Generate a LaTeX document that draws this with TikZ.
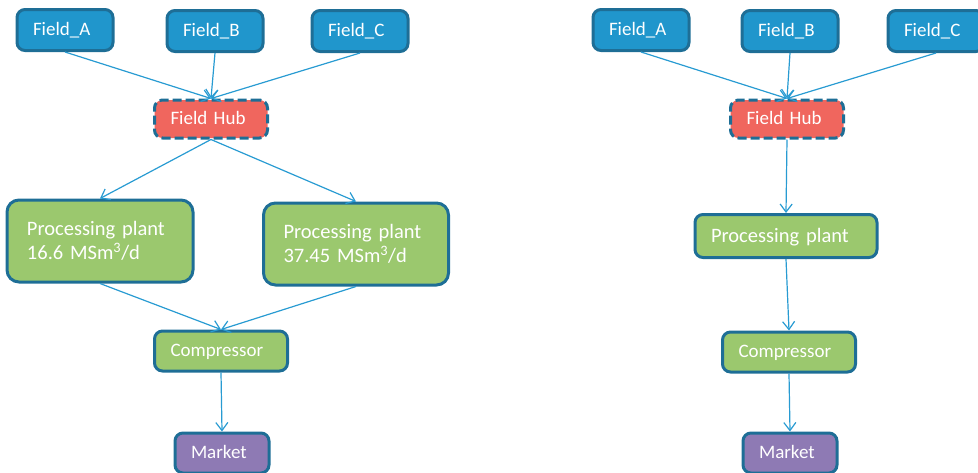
\documentclass[tikz,border=0pt]{standalone}
\usepackage{fontspec}
\setmainfont{Carlito}
\usetikzlibrary{arrows.meta}

\definecolor{fieldblue}{RGB}{32,150,204}
\definecolor{edgeblue}{RGB}{30,110,150}
\definecolor{hubred}{RGB}{240,102,94}
\definecolor{plantgreen}{RGB}{155,200,110}
\definecolor{mktpurple}{RGB}{142,122,180}
\definecolor{pipeblue}{RGB}{40,155,210}

\begin{document}
\begin{tikzpicture}[x=1pt,y=-1pt,%
        box/.style={draw=edgeblue, line width=3pt, rounded corners=8pt,%
                        text=white, align=left, inner xsep=16pt,%
                        inner ysep=0pt, font=\fontsize{19}{24}\selectfont},
        one/.style={box, text height=11pt, text depth=0pt},
        fld/.style={one, fill=fieldblue, text width=64pt, minimum height=41pt},
        hub/.style={one, fill=hubred, dashed, dash pattern=on 9pt off 4pt,%
                        text width=81pt, minimum height=38pt},
        plant/.style={box, fill=plantgreen, rounded corners=12pt,%
                        font=\fontsize{20.5}{24.5}\selectfont},
        cmp/.style={one, fill=plantgreen, text width=101pt, minimum height=40pt},
        mkt/.style={one, fill=mktpurple, text width=62pt, minimum height=40pt},
        pipe/.style={draw=pipeblue, line width=1.2pt,%
                        -{Straight Barb[length=8pt,width=12pt]}}]
    \useasboundingbox (0,0) rectangle (978,472);
    \begin{scope}
    \clip (0,0) rectangle (978,472);
    % left: two plants
    \node[fld] (fa1) at (65,30) {Field\_A};
    \node[fld] (fb1) at (215,31) {Field\_B};
    \node[fld] (fc1) at (360,31) {Field\_C};
    \node[hub] (hub1) at (211,119) {Field Hub};
    \node[plant, text width=146pt, minimum height=82pt, inner xsep=20pt]
        (pp1) at (100,241) {Processing plant\\16.6 MSm\textsuperscript{3}/d};
    \node[plant, text width=145pt, minimum height=82pt, inner xsep=20pt]
        (pp2) at (356,244) {Processing plant\\37.45 MSm\textsuperscript{3}/d};
    \node[cmp] (cmp1) at (221,351) {Compressor};
    \node[mkt] (mkt1) at (222,453) {Market};
    % right: one plant
    \node[fld] (fa2) at (641,30) {Field\_A};
    \node[fld] (fb2) at (790,31) {Field\_B};
    \node[fld] (fc2) at (936,31) {Field\_C};
    \node[hub] (hub2) at (787,119) {Field Hub};
    \node[plant, text width=150pt, minimum height=43pt, rounded corners=8pt,%
          text height=12pt, text depth=0pt] (pp3) at (786,236) {Processing plant};
    \node[cmp] (cmp2) at (789,352) {Compressor};
    \node[mkt] (mkt2) at (790,453) {Market};
    \end{scope}
    \foreach \s in {1,2} {
        \draw[pipe] (fa\s.south) -- (hub\s.north);
        \draw[pipe] (fb\s.south) -- (hub\s.north);
        \draw[pipe] (fc\s.south) -- (hub\s.north);
        \draw[pipe] (cmp\s.south) -- (mkt\s.north);
    }
    \draw[pipe] (hub1.south) -- (pp1.north);
    \draw[pipe] (hub1.south) -- (pp2.north);
    \draw[pipe] (pp1.south) -- (cmp1.north);
    \draw[pipe] (pp2.south) -- (cmp1.north);
    \draw[pipe] (hub2.south) -- (pp3.north);
    \draw[pipe] (pp3.south) -- (cmp2.north);
\end{tikzpicture}
\end{document}
